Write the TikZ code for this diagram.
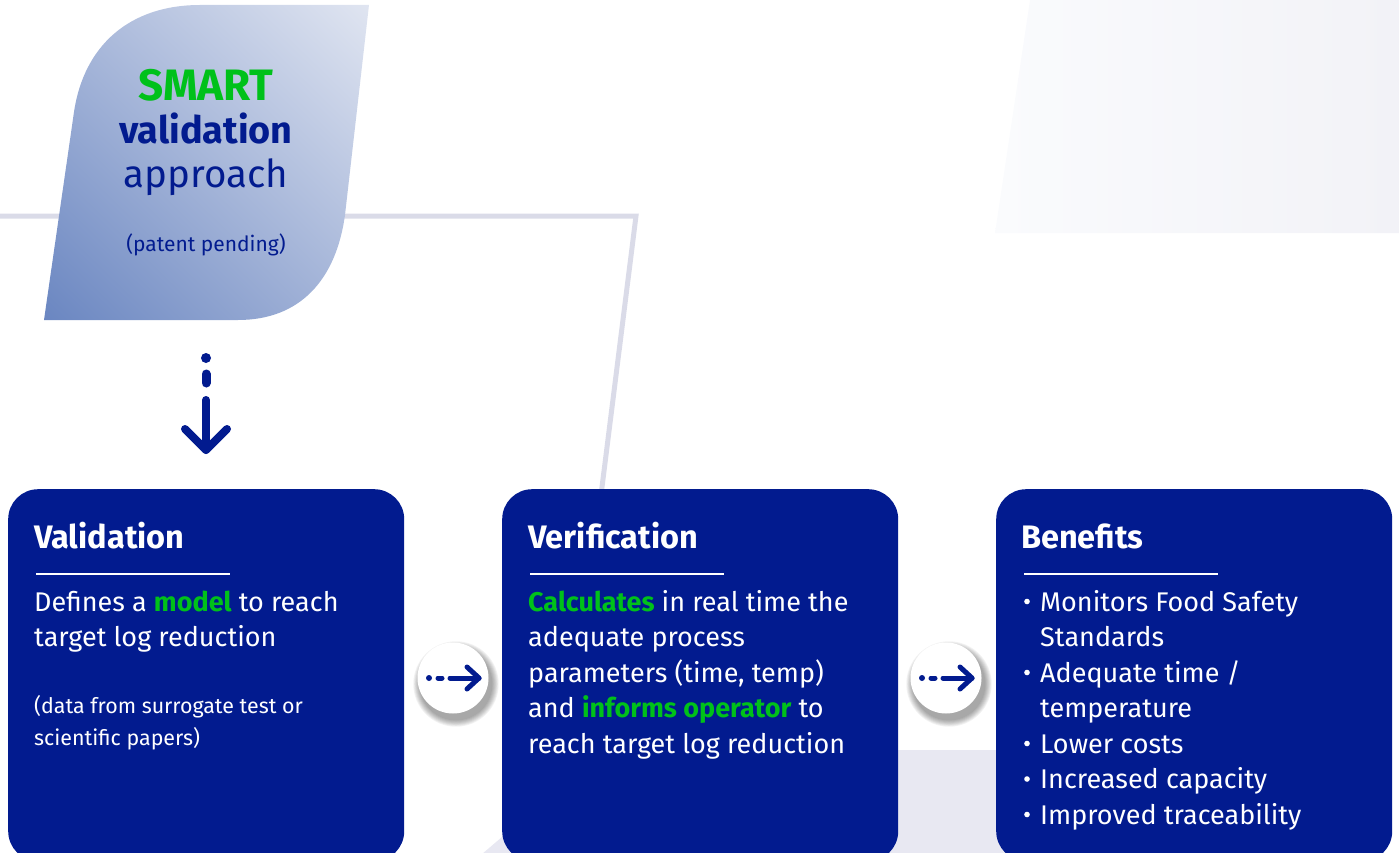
\documentclass[tikz,border=0pt]{standalone}
\usepackage{fontspec}
\setmainfont{Fira Sans}
\usetikzlibrary{calc,shadings}
\definecolor{navy}{HTML}{021B8F}
\definecolor{grn}{HTML}{00C11A}
\definecolor{linegray}{HTML}{DADBE8}
\definecolor{leafdark}{HTML}{6A86C1}
\definecolor{leafmid}{HTML}{A6B6D9}
\definecolor{leaflight}{HTML}{E0E5F1}
\definecolor{bgA}{HTML}{FAFBFD}
\definecolor{bgB}{HTML}{F2F2F7}
\definecolor{bgC}{HTML}{E8E8F2}
\begin{document}
\begin{tikzpicture}[x=1pt,y=-1pt,
  panel/.style={fill=navy, rounded corners=30pt, minimum width=396pt, minimum height=372pt, anchor=north west, inner sep=0pt},
  ttl/.style={anchor=base west, text=white, font=\fontsize{32.5}{36}\selectfont\bfseries, inner sep=0pt},
  body/.style={anchor=base west, text=white, font=\fontsize{27}{35}\selectfont, inner sep=0pt},
  small/.style={anchor=base west, text=white, font=\fontsize{21.4}{24}\selectfont, inner sep=0pt},
  rule/.style={white, line width=2pt},
  btn/.style={circle, fill=white, minimum size=71pt, inner sep=0pt},
  arr/.style={navy, line width=5pt, line cap=round, line join=round},
  leaftxt/.style={anchor=base, text=navy, inner sep=0pt}
]
\useasboundingbox (0,0) rectangle (1399,853);
% background shapes
\path[left color=bgA, right color=bgB]
  (1030,0) -- (1399,0) -- (1399,233) -- (995,233) -- cycle;
\fill[bgC] (475,860) -- (604,750) -- (1100,750) -- (1100,860) -- cycle;
% gray line
\coordinate (g0) at (0,216);
\coordinate (g1) at (636,216);
\coordinate (g2) at (601,495);
\draw[linegray, line width=5pt] (g0) -- (g1) -- (g2);
% leaf
\path[lower left=leafdark, upper right=leaflight, upper left=leafmid, lower right=leafmid]
  (44,320) -- (74,112) .. controls (84,45) and (130,5) .. (200,5) -- (369,5)
  -- (345,215) .. controls (336,280) and (300,320) .. (238,320) -- cycle;
\node[leaftxt, text=grn, font=\fontsize{44}{46}\selectfont\bfseries] (smart) at (206,101) {SMART};
\node[leaftxt, font=\fontsize{37.8}{40}\selectfont\bfseries] (valid) at (206,144) {validation};
\node[leaftxt, font=\fontsize{38.5}{40}\selectfont] (appr) at (206,188) {approach};
\node[leaftxt, font=\fontsize{21}{24}\selectfont] (pat) at (206,251) {(patent pending)};
% down arrow
\coordinate (d0) at (206,358);
\fill[navy] (d0) circle (5pt);
\draw[navy, line width=9pt, line cap=round] (206,374) -- (206,383);
\draw[navy, line width=8pt, line cap=round, line join=round] (206,400) -- (206,450);
\draw[navy, line width=8pt, line cap=round, line join=round] (185,429) -- (206,450) -- (227,429);
% panels
\node[panel] (p1) at (8,489) {};
\node[panel] (p2) at (502,489) {};
\node[panel] (p3) at (996,489) {};
% panel 1
\node[ttl] (t1) at (34,548) {Validation};
\draw[rule] (36,574) -- (230,574);
\node[body] (b11) at (34,611) {Defines a \textcolor{grn}{\bfseries model} to reach};
\node[body] (b12) at (34,646.5) {target log reduction};
\node[small] (s11) at (34,713) {(data from surrogate test or};
\node[small] (s12) at (34,745) {scientific papers)};
% panel 2
\node[ttl] (t2) at (528,548) {Verification};
\draw[rule] (530,574) -- (724,574);
\node[body] (b21) at (528,611) {\textcolor{grn}{\bfseries Calculates} in real time the};
\node[body] (b22) at (528,646.5) {adequate process};
\node[body] (b23) at (528,682) {parameters (time, temp)};
\node[body] (b24) at (528,717.5) {and \textcolor{grn}{\bfseries informs operator} to};
\node[body] (b25) at (528,753) {reach target log reduction};
% panel 3
\node[ttl] (t3) at (1021,548) {Benefits};
\draw[rule] (1024,574) -- (1218,574);
\foreach \y/\txt/\bul in {611/{Monitors Food Safety}/1, 646.5/{Standards}/0, 682/{Adequate time /}/1, 717.5/{temperature}/0, 753/{Lower costs}/1, 788.5/{Increased capacity}/1, 824/{Improved traceability}/1}{
  \node[body] at (1040,\y) {\txt};
  \ifnum\bul=1 \fill[white] (1027,\y-9.5) circle (2.8pt); \fi
}
% buttons with shadows
\foreach \cx/\nm in {453/c1, 946/c2}{
  \foreach \i in {1,...,8}{
    \fill[black, opacity=0.05] (\cx+3,680+4) circle ({35.5+\i*0.9});
  }
  \node[btn] (\nm) at (\cx,678) {};
  \fill[navy] ($(\nm)+(-24,0)$) circle (3pt);
  \draw[arr] ($(\nm)+(-15,0)$) -- ($(\nm)+(-11,0)$);
  \draw[arr] ($(\nm)+(-3,0)$) -- ($(\nm)+(26,0)$);
  \draw[arr] ($(\nm)+(14,-11)$) -- ($(\nm)+(26,0)$) -- ($(\nm)+(14,11)$);
}
\end{tikzpicture}
\end{document}
